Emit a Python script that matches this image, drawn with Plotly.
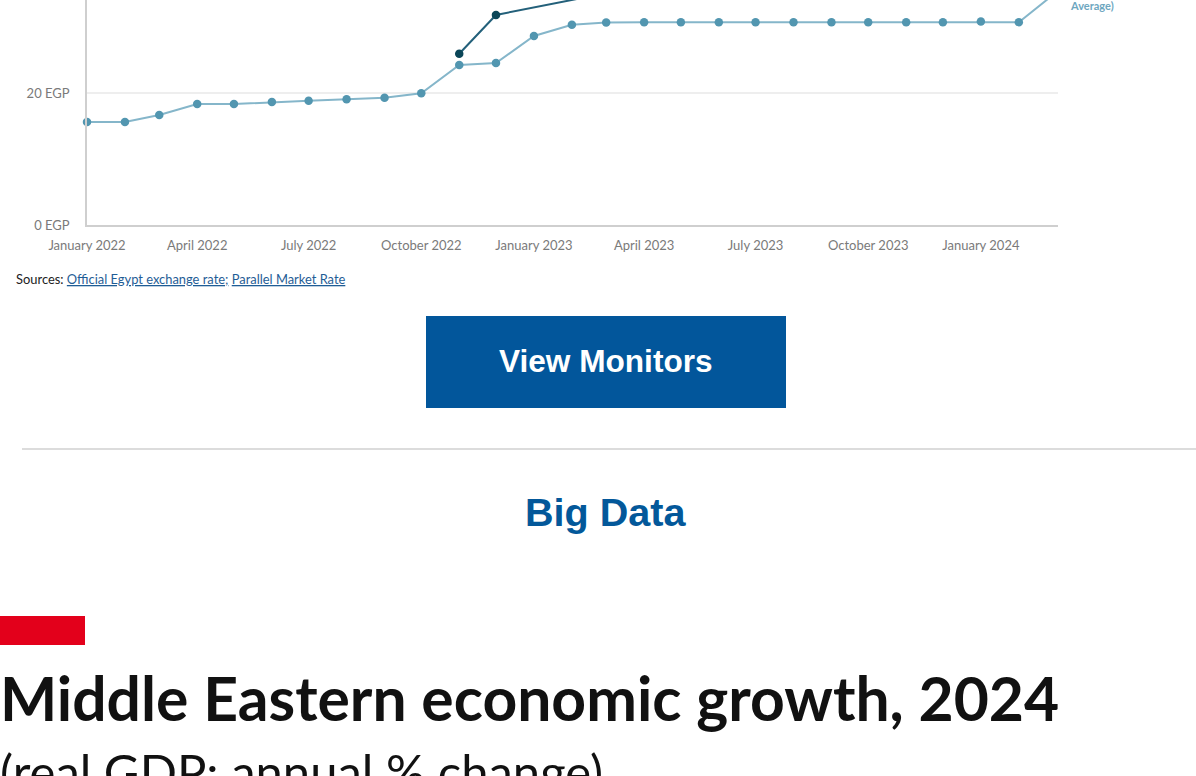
import plotly.graph_objects as go

# ---------------- data ----------------
official_dates = [
    "2022-01-01", "2022-02-01", "2022-03-01", "2022-04-01", "2022-05-01", "2022-06-01",
    "2022-07-01", "2022-08-01", "2022-09-01", "2022-10-01", "2022-11-01", "2022-12-01",
    "2023-01-01", "2023-02-01", "2023-03-01", "2023-04-01", "2023-05-01", "2023-06-01",
    "2023-07-01", "2023-08-01", "2023-09-01", "2023-10-01", "2023-11-01", "2023-12-01",
    "2024-01-01", "2024-02-01", "2024-03-01",
]
official_rate = [
    15.64, 15.64, 16.7, 18.37, 18.37, 18.68,
    18.88, 19.09, 19.33, 20.0, 24.3, 24.6,
    28.7, 30.4, 30.75, 30.8, 30.8, 30.8,
    30.8, 30.8, 30.8, 30.8, 30.8, 30.8,
    30.9, 30.8, 35.1,
]
parallel_dates = ["2022-11-01", "2022-12-01", "2023-03-01"]
parallel_rate = [26.0, 31.9, 35.2]

x_tick_vals = ["2022-01-01", "2022-04-01", "2022-07-01", "2022-10-01", "2023-01-01",
               "2023-04-01", "2023-07-01", "2023-10-01", "2024-01-01"]
x_tick_text = ["January 2022", "April 2022", "July 2022", "October 2022", "January 2023",
               "April 2023", "July 2023", "October 2023", "January 2024"]
y_tick_vals = [0, 20]
y_tick_text = ["0 EGP", "20 EGP"]

W, H = 1196, 776


def px_x(v):
    return v / W


def px_y(v):
    return 1 - v / H


LIGHT_LINE = "#85b6ca"
LIGHT_MARK = "#5296b0"
DARK_LINE = "#23607a"
DARK_MARK = "#0b4658"
FONT = "Lato"

fig = go.Figure()
fig.add_trace(go.Scatter(
    x=official_dates, y=official_rate, mode="lines+markers",
    line=dict(color=LIGHT_LINE, width=2),
    marker=dict(color=LIGHT_MARK, size=8.5),
    cliponaxis=False, showlegend=False, hoverinfo="skip",
))
fig.add_trace(go.Scatter(
    x=parallel_dates, y=parallel_rate, mode="lines+markers",
    line=dict(color=DARK_LINE, width=2),
    marker=dict(color=DARK_MARK, size=8.5),
    cliponaxis=False, showlegend=False, hoverinfo="skip",
))

fig.update_layout(
    template="none",
    width=W, height=H,
    margin=dict(l=0, r=0, t=0, b=0, pad=0, autoexpand=False),
    showlegend=False,
    paper_bgcolor="white", plot_bgcolor="white",
    font=dict(family=FONT, color="#777777"),
    xaxis=dict(
        domain=[px_x(87), px_x(1058)],
        range=["2022-01-01", "2024-03-04"],
        type="date",
        tickmode="array", tickvals=x_tick_vals, ticktext=x_tick_text,
        tickfont=dict(family=FONT, size=13, color="#7a7a7a"),
        showgrid=False, zeroline=False,
        showline=True, linecolor="#cfcfcf", linewidth=1.5,
        ticks="", ticklabelstandoff=8, automargin=False,
    ),
    yaxis=dict(
        domain=[px_y(225), 1],
        range=[0, 225 / 6.585],
        tickmode="array", tickvals=y_tick_vals, ticktext=y_tick_text,
        tickfont=dict(family=FONT, size=13, color="#7a7a7a"),
        showgrid=True, gridcolor="#eeeeee", gridwidth=1.5,
        zeroline=False,
        showline=True, linecolor="#cfcfcf", linewidth=1.5,
        ticks="", ticklabelstandoff=13, automargin=False,
    ),
)

shapes = [
    # button
    dict(type="rect", xref="paper", yref="paper",
         x0=px_x(426), x1=px_x(786), y0=px_y(408), y1=px_y(316),
         fillcolor="#02569b", line=dict(width=0)),
    # divider
    dict(type="line", xref="paper", yref="paper",
         x0=px_x(22), x1=1, y0=px_y(449), y1=px_y(449),
         line=dict(color="#dcdcdc", width=2)),
    # red bar
    dict(type="rect", xref="paper", yref="paper",
         x0=0, x1=px_x(85), y0=px_y(645), y1=px_y(616),
         fillcolor="#e3001b", line=dict(width=0)),
]
fig.update_layout(shapes=shapes)

annotations = [
    dict(text="<b>Average)</b>", x=px_x(1068), y=px_y(6), xanchor="left", yanchor="middle",
         font=dict(family=FONT, size=11, color="#6ea7bf")),
    dict(text="Sources: <span style='color:#1f5d96'><u>Official Egypt exchange rate;</u></span> "
              "<span style='color:#1f5d96'><u>Parallel Market Rate</u></span>",
         x=px_x(14), y=px_y(279), xanchor="left", yanchor="middle",
         font=dict(family=FONT, size=12.9, color="#222222")),
    dict(text="<b>View Monitors</b>", x=px_x(606), y=px_y(361), xanchor="center", yanchor="middle",
         font=dict(family="Liberation Sans", size=31.6, color="white")),
    dict(text="<b>Big Data</b>", x=px_x(606), y=px_y(512), xanchor="center", yanchor="middle",
         font=dict(family="Liberation Sans", size=39.6, color="#03589a")),
    dict(text="<b>Middle Eastern economic growth, 2024</b>", x=px_x(-2), y=px_y(697),
         xanchor="left", yanchor="middle",
         font=dict(family=FONT, size=60.6, color="#111111")),
    dict(text="(real GDP: annual % change)", x=px_x(-2), y=px_y(740),
         xanchor="left", yanchor="top",
         font=dict(family=FONT, size=49, color="#111111")),
]
for a in annotations:
    a.update(xref="paper", yref="paper", showarrow=False)
fig.update_layout(annotations=annotations)

fig.write_html("out.html")
